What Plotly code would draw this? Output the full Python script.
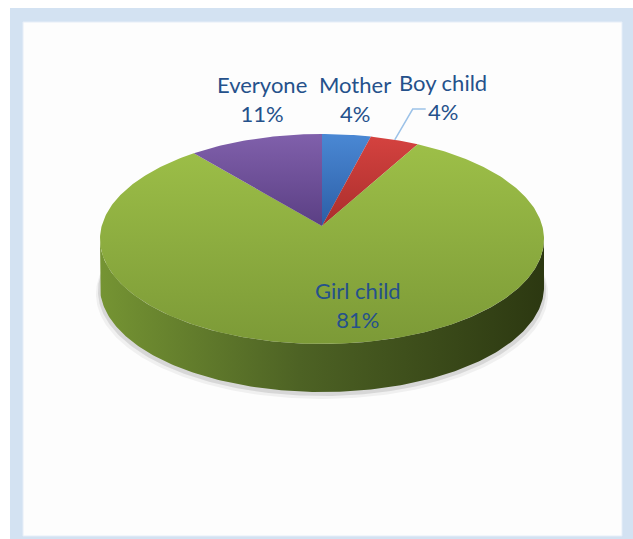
import numpy as np
import plotly.graph_objects as go

# ---- data ----
labels = ["Mother", "Boy child", "Girl child", "Everyone"]
values = [4, 4, 81, 11]

# ---- style ----
top_colors = {
    "Mother": ["#4a88d4", "#2c5ea6"],
    "Boy child": ["#d4423f", "#aa2e2c"],
    "Girl child": ["#9dbf48", "#7c9a37"],
    "Everyone": ["#8060ab", "#5b3f84"],
}
side_colors = {
    "Mother": ["#2f62ad", "#1d3f70"],
    "Boy child": ["#ab2f2d", "#6e1c1b"],
    "Girl child": ["#759433", "#2c3811"],
    "Everyone": ["#5c3f86", "#3a2856"],
}
TEXT_COLOR = "#25518b"
FONT = "Lato"

W, H = 633, 539
VX, VY = 322, 226      # projected centre of the pie (px)
A_, B_ = 220.3, 103.4  # projection scale (px)
K = 0.124              # perspective strength
DEPTH = 48

def proj(f, dy=0.0):
    f = np.atleast_1d(f)
    a = 2 * np.pi * f
    u, w = np.sin(a), np.cos(a)
    d = 1 + K * w
    return VX + A_ * u / d, VY - B_ * w / d + dy

def arc(f0, f1, n=400, dy=0.0):
    f = np.linspace(f0, f1, max(int(n * (f1 - f0)) + 2, 3))
    return proj(f, dy)

fig = go.Figure()

# soft shadow below the pie
f_all = np.linspace(0, 1, 400)
for grow, dy, alpha in [(4, 7, 0.05), (2, 4, 0.10)]:
    sx, sy = proj(f_all, DEPTH + dy)
    sx = VX + (sx - VX) * (1 + grow / 220.0)
    fig.add_trace(go.Scatter(x=sx, y=sy, fill="toself", mode="lines", line=dict(width=0),
                             fillcolor=f"rgba(0,0,0,{alpha})", hoverinfo="skip", showlegend=False))

total = sum(values)
fracs = [v / total for v in values]
cum = np.concatenate([[0], np.cumsum(fracs)])

# visible side wall range (silhouette points)
f_lo = np.arccos(-K) / (2 * np.pi)
f_hi = 1 - f_lo

for lab, f0, f1 in zip(labels, cum[:-1], cum[1:]):
    a0, a1 = max(f0, f_lo), min(f1, f_hi)
    if a1 <= a0:
        continue
    tx, ty = arc(a0, a1)
    bx, by = arc(a0, a1, dy=DEPTH)
    xs = np.concatenate([tx, bx[::-1], tx[:1]])
    ys = np.concatenate([ty, by[::-1], ty[:1]])
    c0, c1 = side_colors[lab]
    fig.add_trace(go.Scatter(x=xs, y=ys, fill="toself", mode="lines", line=dict(width=0),
                             fillgradient=dict(type="horizontal",
                                               colorscale=[[0, c0], [0.45, "#4d6224"], [1, c1]]),
                             hoverinfo="skip", showlegend=False))

# top faces
for lab, f0, f1 in zip(labels, cum[:-1], cum[1:]):
    ax_, ay_ = arc(f0, f1)
    xs = np.concatenate([[VX], ax_, [VX]])
    ys = np.concatenate([[VY], ay_, [VY]])
    c0, c1 = top_colors[lab]
    fig.add_trace(go.Scatter(x=xs, y=ys, fill="toself", mode="lines", line=dict(width=0),
                             fillgradient=dict(type="vertical", colorscale=[[0, c1], [1, c0]]),
                             name=lab, hoverinfo="skip", showlegend=False))

# labels
label_pos = {
    "Everyone": (262, 99),
    "Mother": (355, 99),
    "Boy child": (443, 97),
    "Girl child": (358, 305),
}
for lab, v in zip(labels, values):
    x, y = label_pos[lab]
    fig.add_annotation(x=x, y=y, xref="x", yref="y", text=f"{lab}<br>{round(100 * v / total)}%",
                       showarrow=False, font=dict(family=FONT, size=22, color=TEXT_COLOR),
                       xanchor="center", yanchor="middle")

# leader line for Boy child
bi = labels.index("Boy child")
fmid = (cum[bi] + cum[bi + 1]) / 2
lx, ly = proj(fmid)
sx0, sy0 = lx[0], ly[0]
fig.add_trace(go.Scatter(x=[sx0, sx0 + 18, sx0 + 31], y=[sy0, 109, 109], mode="lines",
                         line=dict(color="#9cc2e8", width=1.5), hoverinfo="skip", showlegend=False))

# frame
fig.add_shape(type="rect", x0=10, x1=645, y0=8, y1=545, fillcolor="#d3e2f2",
              line=dict(width=0), layer="below")
fig.add_shape(type="rect", x0=23, x1=622, y0=22, y1=536, fillcolor="#fdfdfd",
              line=dict(color="#e6eef8", width=1), layer="below")

fig.update_layout(
    width=W, height=H, margin=dict(l=0, r=0, t=0, b=0),
    paper_bgcolor="white", plot_bgcolor="rgba(0,0,0,0)",
    xaxis=dict(range=[0, W], visible=False, fixedrange=True),
    yaxis=dict(range=[H, 0], visible=False, fixedrange=True),
    showlegend=False,
)
fig.write_html("out.html")
